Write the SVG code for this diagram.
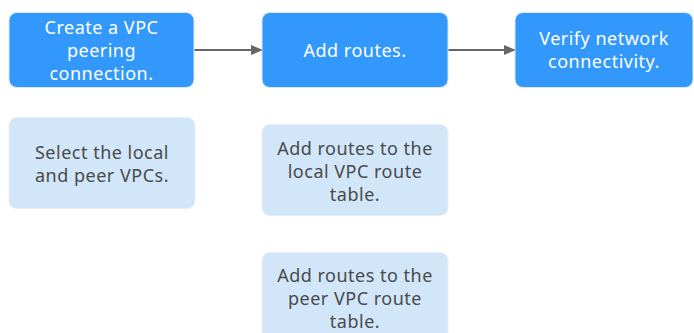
<svg xmlns="http://www.w3.org/2000/svg" width="694" height="333" viewBox="0 0 694 333">
<style>
.main rect{fill:#3398fc;stroke:#d6e8fb;stroke-width:1}
.sub rect{fill:#d1e6f9;stroke:#e6eef7;stroke-width:1}
text{font-family:"Noto Sans","Open Sans",sans-serif;font-size:18px;letter-spacing:0.5px;text-anchor:middle}
.main text{fill:#ffffff}
.sub text{fill:#4a4a4a}
.conn line{stroke:#666666;stroke-width:2;marker-end:url(#ah)}
</style>
<defs>
<marker id="ah" markerWidth="12" markerHeight="10" refX="11" refY="5" orient="auto" markerUnits="userSpaceOnUse">
<path d="M0,0 L12,5 L0,10 Z" fill="#666666"/>
</marker>
</defs>
<g class="conn">
<line x1="194" y1="50" x2="262" y2="50"/>
<line x1="448" y1="50" x2="515" y2="50"/>
</g>
<g id="n1" class="main">
<rect x="9" y="12.5" width="185" height="75" rx="8"/>
<text x="101.5" y="33.5">Create a VPC</text>
<text x="101.5" y="56.5">peering</text>
<text x="101.5" y="79.5">connection.</text>
</g>
<g id="n2" class="main">
<rect x="262" y="12.5" width="186" height="75" rx="8"/>
<text x="355" y="57">Add routes.</text>
</g>
<g id="n3" class="main">
<rect x="515" y="12.5" width="178" height="75" rx="8"/>
<text x="604" y="45">Verify network</text>
<text x="604" y="68">connectivity.</text>
</g>
<g id="s1" class="sub">
<rect x="9" y="117.5" width="186" height="91" rx="8"/>
<text x="102" y="159">Select the local</text>
<text x="102" y="182">and peer VPCs.</text>
</g>
<g id="s2" class="sub">
<rect x="262" y="124.5" width="186" height="91" rx="8"/>
<text x="355" y="155">Add routes to the</text>
<text x="355" y="178">local VPC route</text>
<text x="355" y="201">table.</text>
</g>
<g id="s3" class="sub">
<rect x="262" y="252.5" width="186" height="92" rx="8"/>
<text x="355" y="282">Add routes to the</text>
<text x="355" y="305">peer VPC route</text>
<text x="355" y="328">table.</text>
</g>
</svg>
